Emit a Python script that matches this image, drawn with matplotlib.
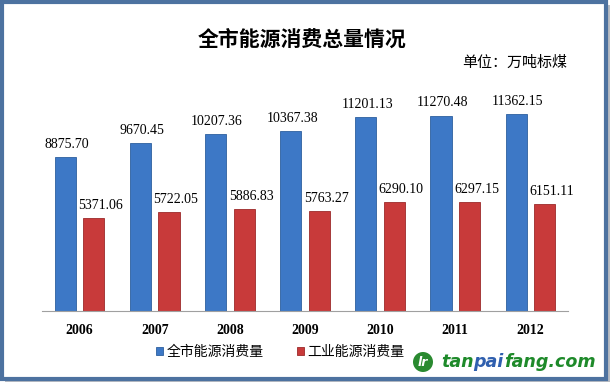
import matplotlib
matplotlib.use("Agg")
import matplotlib.pyplot as plt
from matplotlib.patches import Rectangle, Ellipse
import numpy as np

years = ["2006", "2007", "2008", "2009", "2010", "2011", "2012"]
total = [8875.70, 9670.45, 10207.36, 10367.38, 11201.13, 11270.48, 11362.15]
industry = [5371.06, 5722.05, 5886.83, 5763.27, 6290.10, 6297.15, 6151.11]
series_names = ["全市能源消费量", "工业能源消费量"]
title = "全市能源消费总量情况"
unit = "单位：万吨标煤"

CJK = ["Noto Sans CJK SC", "DejaVu Sans"]
SERIF = ["Liberation Serif", "DejaVu Serif"]

W, H = 610, 383
fig = plt.figure(figsize=(W / 100, H / 100), dpi=100)
fig.patch.set_facecolor("white")

# frame with shadow
fig.add_artist(Rectangle((5 / W, 1 / H), (W - 5) / W, (H - 6) / H, transform=fig.transFigure,
                         facecolor="#b8bcc2", edgecolor="none", zorder=-2))
fig.add_artist(Rectangle((2 / W, 4 / H), (W - 6) / W, (H - 6) / H, transform=fig.transFigure,
                         facecolor="white", edgecolor="#4d72a0", linewidth=3, zorder=-1))

ax = fig.add_axes([42 / W, (H - 311) / H, 526 / W, 208 / H])
ax.set_facecolor("none")
x = np.arange(len(years))
bw = 0.28
off = 0.19
c_blue = "#3d78c6"
c_red = "#c83a3a"
b1 = ax.bar(x - off, total, bw, color=c_blue, edgecolor="#2d5f9f", linewidth=0.6, label=series_names[0])
b2 = ax.bar(x + off, industry, bw, color=c_red, edgecolor="#9c2a2a", linewidth=0.6, label=series_names[1])

for xi, v in zip(x, total):
    ax.annotate(f"{v:.2f}", (xi - off, v), xytext=(1, 4.5), textcoords="offset points",
                ha="center", va="bottom", fontsize=10, family=SERIF)
for xi, v in zip(x, industry):
    ax.annotate(f"{v:.2f}", (xi + off, v), xytext=(5, 4.5), textcoords="offset points",
                ha="center", va="bottom", fontsize=10, family=SERIF)

ax.set_xlim(-0.5, len(years) - 0.5)
ax.set_ylim(0, 12000)
ax.set_yticks([])
ax.set_xticks(x)
ax.set_xticklabels(years, fontsize=10, fontweight="bold", family=SERIF)
ax.tick_params(axis="x", length=0, pad=9)
for s in ["top", "right", "left"]:
    ax.spines[s].set_visible(False)
ax.spines["bottom"].set_color("#a0a0a0")

fig.text(302 / W, 1 - 39 / H, title, ha="center", va="center", fontsize=15,
         fontweight="bold", family=CJK)
fig.text(567 / W, 1 - 63 / H, unit, ha="right", va="center", fontsize=10.8, family=CJK)

leg = fig.legend(handles=[b1, b2], labels=series_names, loc="center",
                 bbox_to_anchor=(280 / W, 1 - 352 / H), ncol=2, frameon=False,
                 prop={"family": CJK, "size": 10}, handlelength=0.55, handleheight=0.55,
                 handletextpad=0.2, columnspacing=2.4)

# watermark
fig.add_artist(Ellipse((423 / W, 1 - 362 / H), 20 / W, 20 / H, transform=fig.transFigure,
                       facecolor="#2a8a30", edgecolor="none"))
fig.text(423 / W, 1 - 362 / H, "lr", ha="center", va="center", fontsize=9, color="white",
         fontweight="bold", style="italic")
renderer = fig.canvas.get_renderer()
xpos = 441
for part, col in [("tan", "#1e8a2a"), ("pai", "#2f5fae"), ("fang.com", "#1e8a2a")]:
    t = fig.text(xpos / W, 1 - 362 / H, part, ha="left", va="center", fontsize=12.6,
                 fontweight="bold", style="italic", color=col, family=["DejaVu Sans"])
    xpos += t.get_window_extent(renderer).width

fig.savefig("out.png", dpi=100)
